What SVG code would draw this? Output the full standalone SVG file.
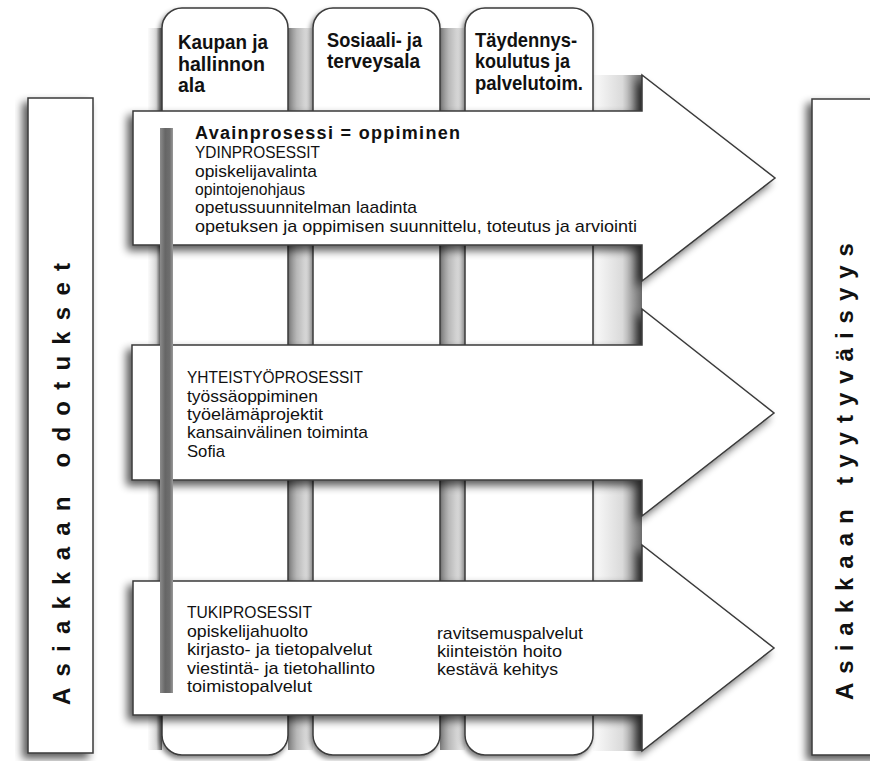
<svg xmlns="http://www.w3.org/2000/svg" width="870" height="761" viewBox="0 0 870 761">
<defs>
<style>
.wh{fill:#fff;stroke:#3a3a3a;stroke-width:1.5}
.t{font-family:"Liberation Sans",Arial,sans-serif;font-size:17px;fill:#111}
.tb{font-family:"Liberation Sans",Arial,sans-serif;font-size:21px;font-weight:bold;fill:#111}
.h{font-family:"Liberation Sans",Arial,sans-serif;font-size:18px;font-weight:bold;fill:#111}
.v{font-family:"Liberation Sans",Arial,sans-serif;font-size:24px;font-weight:bold;fill:#111}
</style>
<linearGradient id="gapL" x1="0" y1="0" x2="1" y2="0">
<stop offset="0" stop-color="#7c7c7c"/><stop offset="0.35" stop-color="#b8b8b8"/><stop offset="1" stop-color="#f2f2f2"/>
</linearGradient>
<linearGradient id="gapR" x1="0" y1="0" x2="1" y2="0">
<stop offset="0" stop-color="#fbfbfb"/><stop offset="0.6" stop-color="#dadada"/><stop offset="1" stop-color="#6a6a6a"/>
</linearGradient>
<linearGradient id="bar" x1="0" y1="0" x2="1" y2="0">
<stop offset="0" stop-color="#8c8c8c"/><stop offset="0.4" stop-color="#666"/><stop offset="0.75" stop-color="#6e6e6e"/><stop offset="1" stop-color="#9a9a9a"/>
</linearGradient>
<filter id="sh" x="-20%" y="-20%" width="140%" height="140%">
<feGaussianBlur in="SourceAlpha" stdDeviation="4"/>
<feOffset dx="-5" dy="5"/>
<feComponentTransfer><feFuncA type="linear" slope="0.65"/></feComponentTransfer>
<feMerge><feMergeNode/><feMergeNode in="SourceGraphic"/></feMerge>
</filter>
<filter id="shb" x="-10%" y="-10%" width="120%" height="120%">
<feGaussianBlur in="SourceAlpha" stdDeviation="2.5"/>
<feOffset dx="-2" dy="3"/>
<feComponentTransfer><feFuncA type="linear" slope="0.5"/></feComponentTransfer>
<feMerge><feMergeNode/><feMergeNode in="SourceGraphic"/></feMerge>
</filter>
</defs>
<rect x="0" y="0" width="870" height="761" fill="#fff"/>

<g id="columns">
<rect x="148" y="28" width="14" height="722" fill="url(#gapR)"/>
<rect x="288" y="28" width="25" height="722" fill="url(#gapL)"/>
<rect x="440" y="28" width="25" height="722" fill="url(#gapL)"/>
<rect x="593" y="75" width="49" height="676" fill="url(#gapR)"/>
<rect class="wh" x="162" y="8" width="126" height="747" rx="20" filter="url(#shb)"/>
<rect class="wh" x="313" y="8" width="127" height="747" rx="20" filter="url(#shb)"/>
<rect class="wh" x="465" y="8" width="128" height="747" rx="20" filter="url(#shb)"/>
</g>

<g id="tab1">
<text class="tb" x="178" y="49" textLength="90" lengthAdjust="spacingAndGlyphs">Kaupan ja</text>
<text class="tb" x="178" y="71" textLength="87" lengthAdjust="spacingAndGlyphs">hallinnon</text>
<text class="tb" x="178" y="92" textLength="27" lengthAdjust="spacingAndGlyphs">ala</text>
</g>
<g id="tab2">
<text class="tb" x="327" y="47" textLength="95" lengthAdjust="spacingAndGlyphs">Sosiaali- ja</text>
<text class="tb" x="327" y="68" textLength="93" lengthAdjust="spacingAndGlyphs">terveysala</text>
</g>
<g id="tab3">
<text class="tb" x="475" y="47" textLength="102" lengthAdjust="spacingAndGlyphs">Täydennys-</text>
<text class="tb" x="475" y="68" textLength="95" lengthAdjust="spacingAndGlyphs">koulutus ja</text>
<text class="tb" x="475" y="90" textLength="108" lengthAdjust="spacingAndGlyphs">palvelutoim.</text>
</g>

<g id="arrow1">
<path class="wh" d="M133,111 H642 V75 L775,178 L642,281 V245 H133 Z" filter="url(#sh)"/>
</g>
<g id="arrow2">
<path class="wh" d="M132,345 H642 V309 L774,413 L642,516 V480 H132 Z" filter="url(#sh)"/>
</g>
<g id="arrow3">
<path class="wh" d="M133,581 H642 V545 L774,648 L642,751 V715 H133 Z" filter="url(#sh)"/>
</g>

<rect x="160" y="128" width="13" height="565" fill="url(#bar)"/>

<g id="text1">
<text class="h" x="195" y="139" textLength="265" lengthAdjust="spacing">Avainprosessi = oppiminen</text>
<text class="t" x="195" y="158" textLength="125" lengthAdjust="spacingAndGlyphs">YDINPROSESSIT</text>
<text class="t" x="195" y="177" textLength="122" lengthAdjust="spacingAndGlyphs">opiskelijavalinta</text>
<text class="t" x="195" y="195" textLength="110" lengthAdjust="spacingAndGlyphs">opintojenohjaus</text>
<text class="t" x="195" y="213" textLength="222" lengthAdjust="spacingAndGlyphs">opetussuunnitelman laadinta</text>
<text class="t" x="195" y="232" textLength="442" lengthAdjust="spacingAndGlyphs">opetuksen ja oppimisen suunnittelu, toteutus ja arviointi</text>
</g>
<g id="text2">
<text class="t" x="187" y="383" textLength="176" lengthAdjust="spacingAndGlyphs">YHTEISTYÖPROSESSIT</text>
<text class="t" x="187" y="402" textLength="131" lengthAdjust="spacingAndGlyphs">työssäoppiminen</text>
<text class="t" x="187" y="420" textLength="136" lengthAdjust="spacingAndGlyphs">työelämäprojektit</text>
<text class="t" x="187" y="438" textLength="181" lengthAdjust="spacingAndGlyphs">kansainvälinen toiminta</text>
<text class="t" x="187" y="457" textLength="38" lengthAdjust="spacingAndGlyphs">Sofia</text>
</g>
<g id="text3">
<text class="t" x="187" y="618" textLength="125" lengthAdjust="spacingAndGlyphs">TUKIPROSESSIT</text>
<text class="t" x="187" y="637" textLength="121" lengthAdjust="spacingAndGlyphs">opiskelijahuolto</text>
<text class="t" x="187" y="655" textLength="185" lengthAdjust="spacingAndGlyphs">kirjasto- ja tietopalvelut</text>
<text class="t" x="187" y="674" textLength="188" lengthAdjust="spacingAndGlyphs">viestintä- ja tietohallinto</text>
<text class="t" x="187" y="692" textLength="125" lengthAdjust="spacingAndGlyphs">toimistopalvelut</text>
<text class="t" x="437" y="639" textLength="146" lengthAdjust="spacingAndGlyphs">ravitsemuspalvelut</text>
<text class="t" x="437" y="657" textLength="125" lengthAdjust="spacingAndGlyphs">kiinteistön hoito</text>
<text class="t" x="437" y="675" textLength="121" lengthAdjust="spacingAndGlyphs">kestävä kehitys</text>
</g>

<g id="leftbox">
<rect class="wh" x="28" y="98" width="65" height="655" filter="url(#sh)"/>
<text class="v" transform="translate(70,705) rotate(-90)" textLength="442" lengthAdjust="spacing">Asiakkaan odotukset</text>
</g>
<g id="rightbox">
<rect class="wh" x="812" y="99" width="72" height="656" filter="url(#sh)"/>
<text class="v" transform="translate(853,700) rotate(-90)" textLength="457" lengthAdjust="spacing">Asiakkaan tyytyväisyys</text>
</g>
</svg>
